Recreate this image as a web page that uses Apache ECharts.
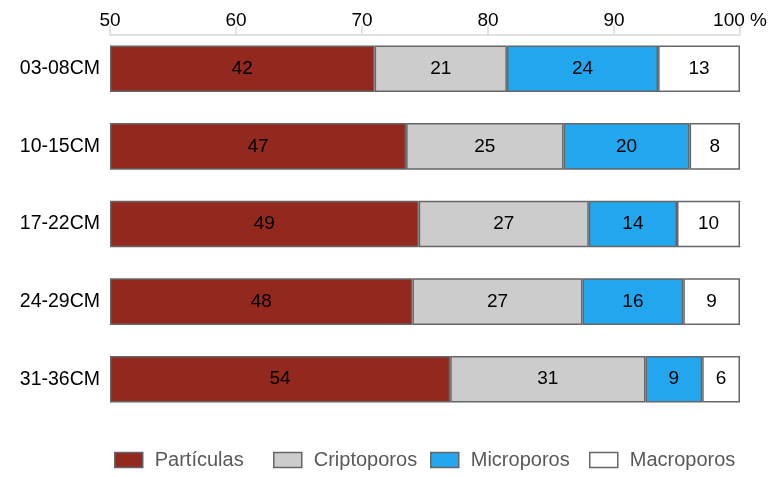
<!DOCTYPE html>
<html>
<head>
<meta charset="utf-8">
<script src="https://cdn.jsdelivr.net/npm/echarts@6/dist/echarts.min.js"></script>
<style>html,body{margin:0;padding:0;background:#fff}#c{width:774px;height:477px}</style>
</head>
<body>
<div id="c"></div>
<script>
const categories = ['03-08CM', '10-15CM', '17-22CM', '24-29CM', '31-36CM'];
const particulas = [42, 47, 49, 48, 54];
const criptoporos = [21, 25, 27, 27, 31];
const microporos = [24, 20, 14, 16, 9];
const macroporos = [13, 8, 10, 9, 6];
const tickLabels = ['50', '60', '70', '80', '90', '100 %'];
const seriesNames = ['Partículas', 'Criptoporos', 'Microporos', 'Macroporos'];
const seriesData = [particulas, criptoporos, microporos, macroporos];
const colors = ['#93281E', '#CCCCCC', '#22A6EE', '#FFFFFF'];

const chart = echarts.init(document.getElementById('c'));
const font = 'Liberation Sans, Arial, sans-serif';
const legendLeft = [109, 268, 425, 584];

chart.setOption({
  animation: false,
  textStyle: { fontFamily: font },
  grid: { left: 110, right: 34, top: 30, bottom: 59, containLabel: false, outerBoundsMode: 'none' },
  xAxis: {
    type: 'value', position: 'top', min: 0, max: 100, interval: 20, offset: -5,
    axisLine: { show: true, lineStyle: { color: '#D9D9D9', width: 1.5 } },
    axisTick: { show: true, length: 9, lineStyle: { color: '#D9D9D9', width: 1.5 } },
    splitLine: { show: false },
    axisLabel: {
      fontSize: 19, color: '#000', margin: 5, fontFamily: font,
      formatter: function (v) { return tickLabels[Math.round(v / 20)]; }
    }
  },
  yAxis: {
    type: 'category', data: categories, inverse: true,
    axisLine: { show: false }, axisTick: { show: false },
    axisLabel: { fontSize: 19.5, color: '#000', margin: 10, fontFamily: font }
  },
  legend: seriesNames.map(function (n, i) {
    return {
      data: [n], left: legendLeft[i], bottom: 2, itemWidth: 28, itemHeight: 15,
      icon: 'rect',
      itemStyle: { borderColor: '#666', borderWidth: 1.5 },
      textStyle: { fontSize: 20, color: '#595959', fontFamily: font, padding: [0, 0, 0, 7] }
    };
  }),
  series: seriesNames.map(function (n, i) {
    return {
      name: n, type: 'bar', stack: 'total', barWidth: '60%',
      data: seriesData[i],
      itemStyle: { color: colors[i], borderColor: '#666', borderWidth: 1.5 },
      label: { show: true, position: 'inside', color: '#000', fontSize: 19, fontFamily: font }
    };
  })
});
</script>
</body>
</html>
